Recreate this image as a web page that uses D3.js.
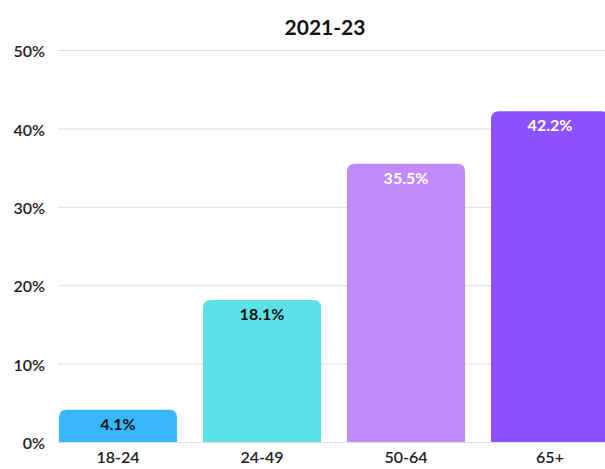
<!DOCTYPE html>
<html><head><meta charset="utf-8">
<script src="https://cdn.jsdelivr.net/npm/d3@7/dist/d3.min.js"></script>
<style>body{margin:0;background:#fff;overflow:hidden}svg{display:block;font-family:Lato,sans-serif}</style>
</head><body>
<script>
const categories = ["18-24","24-49","50-64","65+"];
const values = [4.1, 18.1, 35.5, 42.2];
const colors = ["#38b6ff","#5ce1e6","#c08bf8","#8c52ff"];
const labelColors = ["#111","#111","#fff","#fff"];
const yTicks = [0,10,20,30,40,50];
const title = "2021-23";

const W=605,H=469;
const svg=d3.select("body").append("svg").attr("width",W).attr("height",H);
const y=d3.scaleLinear().domain([0,50]).range([442,50]);
const x=d3.scaleBand().domain(categories).range([46,622]).paddingInner(0.18).paddingOuter(0.09);

svg.append("text").attr("x",325).attr("y",35).attr("text-anchor","middle")
  .attr("font-size",21).attr("font-weight",700).attr("fill","#111").text(title);

const ya=svg.append("g").attr("transform","translate(58,0)")
  .call(d3.axisLeft(y).tickValues(yTicks).tickFormat(d=>d+"%").tickSize(-560).tickPadding(13));
ya.select(".domain").remove();
ya.selectAll(".tick line").attr("stroke","#ddd");
ya.selectAll(".tick text").attr("font-size",16).attr("font-weight",600).attr("fill","#222").attr("font-family","Lato,sans-serif").attr("dy","0.42em");

const r=8;
function barPath(x0,y0,w,h){
  const rr=Math.min(r,h);
  return `M${x0},${y0+h}V${y0+rr}Q${x0},${y0} ${x0+rr},${y0}H${x0+w-rr}Q${x0+w},${y0} ${x0+w},${y0+rr}V${y0+h}Z`;
}
svg.selectAll("path.bar").data(values).join("path").attr("class","bar")
  .attr("d",(d,i)=>barPath(x(categories[i]),y(d),x.bandwidth(),y(0)-y(d)))
  .attr("fill",(d,i)=>colors[i]);

svg.selectAll("text.val").data(values).join("text").attr("class","val")
  .attr("x",(d,i)=>x(categories[i])+x.bandwidth()/2).attr("y",d=>y(d)+20)
  .attr("text-anchor","middle").attr("font-size",16).attr("font-weight",700)
  .attr("fill",(d,i)=>labelColors[i]).text(d=>d.toFixed(1)+"%");

const xa=svg.append("g").attr("transform","translate(0,442)")
  .call(d3.axisBottom(x).tickSize(0).tickPadding(10));
xa.select(".domain").remove();
xa.selectAll(".tick text").attr("font-size",16).attr("font-weight",600).attr("fill","#222").attr("font-family","Lato,sans-serif");
</script>
</body></html>
